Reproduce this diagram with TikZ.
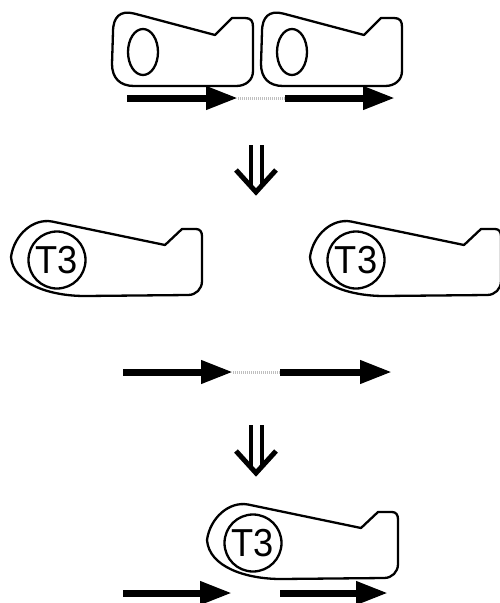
\documentclass[tikz,border=0pt]{standalone}
\usepackage{fontspec}
\newfontfamily\labfont{Liberation Sans}
\usetikzlibrary{arrows.meta}
\begin{document}
\begin{tikzpicture}[x=1pt,y=-1pt,
  outline/.style={line width=2.3pt, line join=round},
  flow/.style={line width=7pt, -{Triangle[length=32pt,width=22pt]}},
  gap/.style={gray!50, line width=3pt, dash pattern=on 1.2pt off 0.8pt},
  stem/.style={line width=4.5pt},
  chevron/.style={line width=5pt, line join=miter},
  tlabel/.style={circle, draw, line width=2.3pt, minimum size=57pt, inner sep=0pt,
    font=\labfont\fontsize{39}{39}\selectfont},
  topcam/.pic={
    \draw[outline] (112,64) -- (113,32) .. controls (113,17) and (120,10) .. (134,13.5)
      -- (215,35) -- (232,18) -- (245,18) .. controls (251,18) and (253,21) .. (253,27)
      -- (253,71) .. controls (253,80) and (246,86) .. (236,86)
      -- (134,86) .. controls (120,86) and (112,78) .. (112,64) -- cycle;
    \draw[outline] (143,52) ellipse [x radius=15, y radius=23];
  },
  midcam/.pic={
    \draw[outline] (11,257) .. controls (14,235) and (33,218) .. (52,221.5)
      -- (165,245) -- (182,229) -- (196,229) .. controls (200,229) and (202,232) .. (202,236)
      -- (202,281) .. controls (202,289) and (196,295) .. (188,295)
      -- (85,296) .. controls (50,296) and (13,284) .. (11,257) -- cycle;
    \node[tlabel] (-t3) at (57,260) {\scalebox{0.93}[1]{T3}};
  }]
\useasboundingbox (0,0) rectangle (499,603);

% first stage: two cams on the strand
\pic (camA) at (0,0) {topcam};
\pic (camB) at (149,0) {topcam};

\coordinate (a1) at (127,98);
\coordinate (a2) at (238,98);
\coordinate (a3) at (285,98);
\coordinate (a4) at (395,98);
\draw[flow] (a1) -- (a2);
\draw[gap] (a2) -- (a3);
\draw[flow] (a3) -- (a4);

% step arrow
\coordinate (s1) at (251,145);
\coordinate (s2) at (251,186);
\coordinate (s3) at (262,145);
\coordinate (s4) at (262,186);
\coordinate (c1) at (236,170);
\coordinate (c2) at (256,192);
\coordinate (c3) at (276,170);
\draw[stem] (s1) -- (s2);
\draw[stem] (s3) -- (s4);
\draw[chevron] (c1) -- (c2) -- (c3);

% second stage: loaded cams apart from the strand
\pic (camC) at (0,0) {midcam};
\pic (camD) at (299,0) {midcam};

\coordinate (b1) at (123,372);
\coordinate (b2) at (233,372);
\coordinate (b3) at (280,372);
\coordinate (b4) at (392,372);
\draw[flow] (b1) -- (b2);
\draw[gap] (b2) -- (b3);
\draw[flow] (b3) -- (b4);

% step arrow
\coordinate (t1) at (251,425);
\coordinate (t2) at (251,467);
\coordinate (t3) at (262,425);
\coordinate (t4) at (262,467);
\coordinate (d1) at (236,451);
\coordinate (d2) at (256,473);
\coordinate (d3) at (276,451);
\draw[stem] (t1) -- (t2);
\draw[stem] (t3) -- (t4);
\draw[chevron] (d1) -- (d2) -- (d3);

% third stage: one cam over the gap
\pic (camE) at (196,283) {midcam};

\coordinate (e1) at (123,593);
\coordinate (e2) at (232,593);
\coordinate (e3) at (280,593);
\coordinate (e4) at (388,593);
\draw[flow] (e1) -- (e2);
\draw[flow] (e3) -- (e4);
\end{tikzpicture}
\end{document}
